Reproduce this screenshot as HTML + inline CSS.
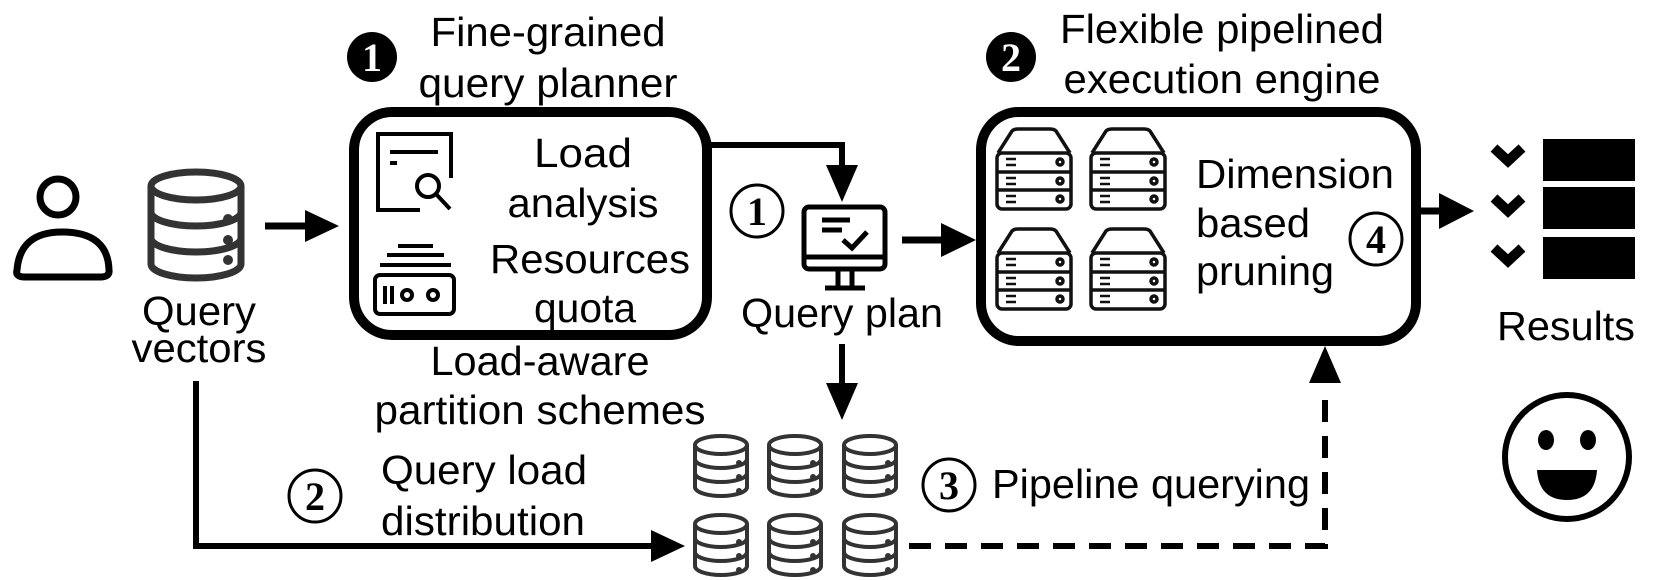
<!DOCTYPE html>
<html><head><meta charset="utf-8"><style>
html,body{margin:0;padding:0;background:#fff}
svg{display:block}
text{font-family:"Liberation Sans",sans-serif;font-size:41px;fill:#000}
.c{font-family:"Liberation Serif",serif;font-weight:bold}
</style></head><body>
<svg width="1661" height="580" viewBox="0 0 1661 580" xmlns="http://www.w3.org/2000/svg">
<defs>
<symbol id="db" viewBox="0 0 60 66">
<g fill="none" stroke="#333" stroke-width="4">
<ellipse cx="30" cy="12" rx="26" ry="9"/>
<path d="M4 12 V54 A26 9 0 0 0 56 54 V12"/>
<path d="M4 26 A26 9 0 0 0 56 26"/>
<path d="M4 40 A26 9 0 0 0 56 40"/>
</g>
<g fill="#333"><circle cx="48" cy="30" r="3"/><circle cx="48" cy="44" r="3"/><circle cx="48" cy="58" r="3"/></g>
</symbol>
<symbol id="srv" viewBox="0 0 80 84">
<g fill="none" stroke="#111" stroke-width="3.5">
<path d="M4 26 L18 4 Q20 2 24 2 H56 Q60 2 62 4 L76 26"/>
<rect x="3" y="26" width="74" height="56" rx="5"/>
<line x1="3" y1="45" x2="77" y2="45"/><line x1="3" y1="63" x2="77" y2="63"/>
<g stroke-width="2.5"><line x1="12" y1="32" x2="22" y2="32"/><line x1="12" y1="38" x2="22" y2="38"/>
<line x1="12" y1="51" x2="22" y2="51"/><line x1="12" y1="57" x2="22" y2="57"/>
<line x1="12" y1="69" x2="22" y2="69"/><line x1="12" y1="75" x2="22" y2="75"/></g>
<circle cx="66" cy="35" r="3"/><circle cx="66" cy="54" r="3"/><circle cx="66" cy="72" r="3"/>
</g>
</symbol>
</defs>

<!-- person -->
<circle cx="58" cy="197" r="18" fill="none" stroke="#000" stroke-width="7"/>
<path d="M17 270 Q20 232 62 232 Q108 232 109 270 Q110 277 100 277 H25 Q15 277 17 270 Z" fill="none" stroke="#000" stroke-width="7"/>
<!-- big db -->
<g fill="none" stroke="#333" stroke-width="7">
<ellipse cx="196" cy="186" rx="45" ry="14"/>
<path d="M151 186 V264 A45 14 0 0 0 241 264 V186"/>
<path d="M151 212 A45 14 0 0 0 241 212"/>
<path d="M151 238 A45 14 0 0 0 241 238"/>
</g>
<g fill="#333"><circle cx="228" cy="219" r="5"/><circle cx="228" cy="240" r="5"/><circle cx="228" cy="260" r="5"/></g>
<text x="199" y="325" text-anchor="middle" textLength="114" lengthAdjust="spacingAndGlyphs">Query</text>
<text x="199" y="362" text-anchor="middle" textLength="135" lengthAdjust="spacingAndGlyphs">vectors</text>

<!-- arrow to box1 -->
<line x1="265" y1="226" x2="308" y2="226" stroke="#000" stroke-width="7"/>
<polygon points="305,210 339,226 305,242" fill="#000"/>

<!-- box1 -->
<rect x="354" y="112" width="353" height="223" rx="38" fill="none" stroke="#000" stroke-width="10"/>
<circle cx="372" cy="57" r="25" fill="#000"/>
<text class="c" x="372" y="71" text-anchor="middle" style="fill:#fff;font-size:40px">1</text>
<text x="548" y="46" text-anchor="middle" textLength="235" lengthAdjust="spacingAndGlyphs">Fine-grained</text>
<text x="548" y="97" text-anchor="middle" textLength="259" lengthAdjust="spacingAndGlyphs">query planner</text>
<!-- doc icon -->
<g fill="none" stroke="#000" stroke-width="4">
<path d="M420 210 H378 V134 H451 V178"/>
<line x1="390" y1="152" x2="438" y2="152"/>
<line x1="390" y1="163" x2="397" y2="163"/>
<circle cx="428" cy="186" r="11"/>
<line x1="436" y1="194" x2="450" y2="209"/>
<line x1="398" y1="246" x2="433" y2="246"/>
<line x1="387" y1="255" x2="444" y2="255"/>
<line x1="380" y1="265" x2="451" y2="265"/>
<rect x="375" y="275" width="79" height="39" rx="5"/>
<line x1="385" y1="286" x2="385" y2="304"/><line x1="392" y1="286" x2="392" y2="304"/>
<circle cx="407" cy="295" r="5"/><circle cx="433" cy="295" r="5"/>
</g>
<text x="583" y="167" text-anchor="middle" textLength="98" lengthAdjust="spacingAndGlyphs">Load</text>
<text x="583" y="217" text-anchor="middle" textLength="151" lengthAdjust="spacingAndGlyphs">analysis</text>
<text x="590" y="273" text-anchor="middle" textLength="200" lengthAdjust="spacingAndGlyphs">Resources</text>
<text x="585" y="322" text-anchor="middle" textLength="102" lengthAdjust="spacingAndGlyphs">quota</text>
<text x="540" y="375" text-anchor="middle" textLength="219" lengthAdjust="spacingAndGlyphs">Load-aware</text>
<text x="540" y="424" text-anchor="middle" textLength="331" lengthAdjust="spacingAndGlyphs">partition schemes</text>

<!-- box1 to monitor -->
<polyline points="707,145 842,145 842,168" fill="none" stroke="#000" stroke-width="6"/>
<polygon points="826,165 858,165 842,202" fill="#000"/>
<circle cx="757" cy="211" r="26" fill="none" stroke="#000" stroke-width="3"/>
<text class="c" x="757" y="225" text-anchor="middle" style="font-size:40px">1</text>
<!-- monitor -->
<g fill="none" stroke="#000" stroke-width="5">
<rect x="804" y="207" width="81" height="62" rx="5"/>
<line x1="804" y1="257" x2="885" y2="257"/>
<line x1="838" y1="269" x2="838" y2="287"/><line x1="852" y1="269" x2="852" y2="287"/>
<line x1="825" y1="288" x2="865" y2="288"/>
<line x1="822" y1="220" x2="850" y2="220"/><line x1="822" y1="230" x2="842" y2="230"/>
<polyline points="843,240 852,248 867,232"/>
</g>
<text x="842" y="327" text-anchor="middle" textLength="202" lengthAdjust="spacingAndGlyphs">Query plan</text>
<line x1="842" y1="344" x2="842" y2="386" stroke="#000" stroke-width="6"/>
<polygon points="826,383 858,383 842,420" fill="#000"/>
<line x1="902" y1="240" x2="945" y2="240" stroke="#000" stroke-width="7"/>
<polygon points="941,223 976,240 941,257" fill="#000"/>

<!-- box2 -->
<rect x="981" y="112" width="435" height="229" rx="38" fill="none" stroke="#000" stroke-width="10"/>
<circle cx="1011" cy="57" r="25" fill="#000"/>
<text class="c" x="1011" y="71" text-anchor="middle" style="fill:#fff;font-size:40px">2</text>
<text x="1222" y="43" text-anchor="middle" textLength="324" lengthAdjust="spacingAndGlyphs">Flexible pipelined</text>
<text x="1222" y="93" text-anchor="middle" textLength="317" lengthAdjust="spacingAndGlyphs">execution engine</text>
<use href="#srv" x="994" y="127" width="80" height="84"/>
<use href="#srv" x="1088" y="127" width="80" height="84"/>
<use href="#srv" x="994" y="227" width="80" height="84"/>
<use href="#srv" x="1088" y="227" width="80" height="84"/>
<text x="1196" y="188" textLength="198" lengthAdjust="spacingAndGlyphs">Dimension</text>
<text x="1196" y="237" textLength="114" lengthAdjust="spacingAndGlyphs">based</text>
<text x="1196" y="285" textLength="138" lengthAdjust="spacingAndGlyphs">pruning</text>
<circle cx="1376" cy="239" r="26" fill="none" stroke="#000" stroke-width="3"/>
<text class="c" x="1376" y="253" text-anchor="middle" style="font-size:40px">4</text>

<!-- to results -->
<line x1="1421" y1="211" x2="1442" y2="211" stroke="#000" stroke-width="7"/>
<polygon points="1439,193 1474,211 1439,229" fill="#000"/>
<g fill="none" stroke="#000" stroke-width="10">
<polyline points="1494,148 1508,161 1522,148"/>
<polyline points="1494,198 1508,211 1522,198"/>
<polyline points="1494,248 1508,261 1522,248"/>
</g>
<rect x="1543" y="139" width="92" height="42" fill="#000"/>
<rect x="1543" y="187" width="92" height="42" fill="#000"/>
<rect x="1543" y="237" width="92" height="42" fill="#000"/>
<text x="1566" y="340" text-anchor="middle" textLength="138" lengthAdjust="spacingAndGlyphs">Results</text>
<!-- smiley -->
<circle cx="1567" cy="457" r="62" fill="none" stroke="#000" stroke-width="6"/>
<ellipse cx="1546" cy="440" rx="8" ry="10" fill="#000"/>
<ellipse cx="1588" cy="440" rx="8" ry="10" fill="#000"/>
<path d="M1537 470 H1597 Q1595 500 1567 500 Q1539 500 1537 470 Z" fill="#000"/>

<!-- query load distribution -->
<polyline points="196,381 196,546 655,546" fill="none" stroke="#000" stroke-width="6"/>
<polygon points="651,530 685,546 651,562" fill="#000"/>
<circle cx="315" cy="496" r="26" fill="none" stroke="#000" stroke-width="3"/>
<text class="c" x="315" y="510" text-anchor="middle" style="font-size:40px">2</text>
<text x="381" y="484" textLength="206" lengthAdjust="spacingAndGlyphs">Query load</text>
<text x="381" y="535" textLength="204" lengthAdjust="spacingAndGlyphs">distribution</text>

<use href="#db" x="691" y="433" width="60" height="66"/>
<use href="#db" x="765" y="433" width="60" height="66"/>
<use href="#db" x="840" y="433" width="60" height="66"/>
<use href="#db" x="691" y="512" width="60" height="66"/>
<use href="#db" x="765" y="512" width="60" height="66"/>
<use href="#db" x="840" y="512" width="60" height="66"/>

<!-- dashed pipeline -->
<polyline points="909,546 1325,546 1325,388" fill="none" stroke="#000" stroke-width="6" stroke-dasharray="22,14"/>
<polygon points="1309,383 1341,383 1325,346" fill="#000"/>
<circle cx="949" cy="485" r="26" fill="none" stroke="#000" stroke-width="3"/>
<text class="c" x="949" y="499" text-anchor="middle" style="font-size:40px">3</text>
<text x="992" y="498" textLength="318" lengthAdjust="spacingAndGlyphs">Pipeline querying</text>
</svg>
</body></html>
